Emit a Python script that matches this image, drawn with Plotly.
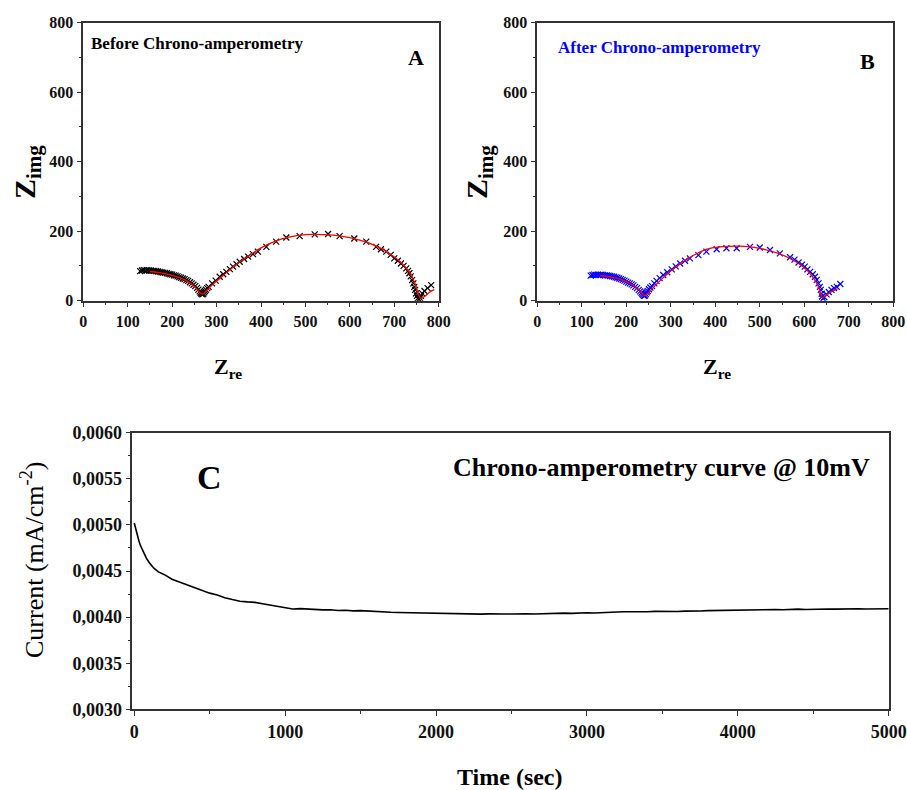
import plotly.graph_objects as go

# ---------------- DATA ----------------
# Panel A: before chrono-amperometry (measured points)
a_zre = [128,132,136,140,144,148,152,156,160,164,168,172,176,180,184,188,192,196,200,204,208,212,216,220,224,228,232,236,240,244,248,252,256,259,262,264,266,268,270,272,274,276,279,282,
         290,298,307,315,322,330,337,345,352,362,371,382,393,412,434,457,487,521,551,577,610,637,659,670,682,692,700,708,715,721,727,731,734,737,740,743,745,747,749,751,753,756,758,760,763,768,775,783]
a_zimg = [85,87,88,87,88,87,87,86,86,85,84,83,82,81,80,79,77,76,75,73,72,70,68,66,64,62,59,57,53,50,46,42,37,32,27,23,20,18,20,24,28,32,36,40,
          50,58,69,76,83,91,98,105,112,120,127,134,141,155,170,182,186,191,192,186,179,170,155,148,141,132,122,115,107,100,93,86,79,70,59,50,40,31,21,14,7,4,8,14,21,28,36,45]
# Panel A: fit
a_fit_zre = [150,175,200,225,245,258,265,270,278,290,310,340,370,400,430,460,500,540,580,620,660,690,715,735,748,755,760,768,780,790]
a_fit_zimg = [84,80,73,62,47,30,20,20,30,45,67,100,127,152,170,182,190,190,186,175,157,135,110,80,45,15,7,12,25,32]

# Panel B: after chrono-amperometry (measured points)
b_zre = [120,124,128,132,136,140,144,148,152,156,160,164,168,172,176,180,184,188,192,196,200,204,208,212,216,220,224,228,231,234,236,238,240,242,244,246,248,251,254,258,
         263,268,275,283,292,302,311,321,332,343,362,380,403,425,448,478,500,523,545,568,578,587,595,601,607,613,619,624,628,632,635,637,639,640,642,645,650,655,661,667,673,681]
b_zimg = [72,74,75,74,75,74,75,74,73,73,72,71,70,69,67,66,64,62,60,58,55,52,50,47,44,40,36,31,27,23,19,16,14,15,19,24,28,33,38,42,
          50,57,65,74,82,90,99,107,115,122,131,141,148,151,151,155,153,146,136,125,118,110,104,98,90,83,76,69,60,50,40,31,20,12,6,10,18,25,31,36,40,48]
# Panel B: fit
b_fit_zre = [140,165,190,210,225,235,240,246,255,270,290,320,350,380,410,450,480,510,540,570,595,615,630,637,641,648,660,675]
b_fit_zimg = [72,68,60,48,35,22,15,18,30,50,75,105,130,148,155,157,155,148,137,120,100,75,45,20,8,14,25,35]

# Panel C: chrono-amperometry
c_time = [0,10,20,30,40,60,80,100,130,160,200,250,300,350,400,450,500,550,600,650,700,750,800,850,900,950,
          1000,1050,1100,1150,1200,1250,1300,1350,1400,1450,1500,1550,1600,1650,1700,1750,1800,1850,1900,1950,
          2000,2050,2100,2150,2200,2250,2300,2350,2400,2450,2500,2550,2600,2650,2700,2750,2800,2850,2900,2950,
          3000,3050,3100,3150,3200,3250,3300,3350,3400,3450,3500,3550,3600,3650,3700,3750,3800,3850,3900,3950,
          4000,4050,4100,4150,4200,4250,4300,4350,4400,4450,4500,4550,4600,4650,4700,4750,4800,4850,4900,4950,5000]
c_current = [0.005020,0.004950,0.004880,0.004830,0.004780,0.004700,0.004640,0.004590,0.004530,0.004490,0.004460,0.004410,
             0.004380,0.004350,0.004320,0.004290,0.004260,0.004240,0.004210,0.004190,0.004172,0.004165,0.004160,0.004145,
             0.004132,0.004112,
             0.004100,0.004088,0.004092,0.004085,0.004082,0.004078,0.004080,0.004072,0.004075,0.004068,0.004070,0.004064,
             0.004060,0.004058,0.004052,0.004050,0.004048,0.004045,0.004046,0.004040,
             0.004038,0.004040,0.004035,0.004037,0.004033,0.004036,0.004032,0.004035,0.004030,0.004033,0.004034,0.004031,
             0.004036,0.004034,0.004038,0.004036,0.004040,0.004043,0.004040,0.004045,
             0.004047,0.004044,0.004050,0.004048,0.004055,0.004058,0.004056,0.004060,0.004058,0.004062,0.004060,0.004063,
             0.004061,0.004065,0.004063,0.004066,0.004070,0.004072,0.004070,0.004074,
             0.004076,0.004074,0.004078,0.004077,0.004080,0.004082,0.004080,0.004084,0.004086,0.004083,0.004087,0.004085,
             0.004088,0.004086,0.004089,0.004087,0.004090,0.004088,0.004091,0.004089,0.004090]

nyq_ticks = [0, 100, 200, 300, 400, 500, 600, 700, 800]
nyq_yticks = [0, 200, 400, 600, 800]
c_xticks = [0, 1000, 2000, 3000, 4000, 5000]
c_yticks = [0.0030, 0.0035, 0.0040, 0.0045, 0.0050, 0.0055, 0.0060]
c_ytick_labels = ["0,0030", "0,0035", "0,0040", "0,0045", "0,0050", "0,0055", "0,0060"]

# ---------------- FIGURE ----------------
SERIF = "Liberation Serif"
W, H, OFF = 907, 790, 0   # body margin removed by post_script below

def dx(a, b):
    return [(a - OFF) / W, (b - OFF) / W]

def dy(top, bottom):
    return [1 - (bottom - OFF) / H, 1 - (top - OFF) / H]

fig = go.Figure()

fig.add_trace(go.Scatter(x=a_zre, y=a_zimg, mode="markers", xaxis="x", yaxis="y",
                         marker=dict(symbol="x-thin", size=6, line=dict(color="black", width=1.2)), showlegend=False))
fig.add_trace(go.Scatter(x=a_fit_zre, y=a_fit_zimg, mode="lines", xaxis="x", yaxis="y",
                         line=dict(color="red", width=1.3, shape="spline"), showlegend=False))
fig.add_trace(go.Scatter(x=b_zre, y=b_zimg, mode="markers", xaxis="x2", yaxis="y2",
                         marker=dict(symbol="x-thin", size=6, line=dict(color="blue", width=1.2)), showlegend=False))
fig.add_trace(go.Scatter(x=b_fit_zre, y=b_fit_zimg, mode="lines", xaxis="x2", yaxis="y2",
                         line=dict(color="red", width=1.3, shape="spline"), showlegend=False))
fig.add_trace(go.Scatter(x=c_time, y=c_current, mode="lines", xaxis="x3", yaxis="y3",
                         line=dict(color="black", width=1.6), showlegend=False))

def ax(domain, rng, tickvals, ticktext=None, fsize=14, minor_d=None, anchor=None):
    d = dict(domain=domain, range=rng, showline=True, mirror=True, linecolor="#333", linewidth=1.5,
             ticks="outside", ticklen=5, tickwidth=1.3, tickcolor="#333", automargin=False,
             showgrid=False, zeroline=False, tickvals=tickvals,
             tickfont=dict(family=SERIF, size=fsize, color="#111", weight="bold"),
             anchor=anchor)
    if ticktext is not None:
        d["ticktext"] = ticktext
    if minor_d is not None:
        d["minor"] = dict(ticks="outside", ticklen=3, tickwidth=1.2, tickcolor="#333", dtick=minor_d, tick0=0, showgrid=False)
    return d

fig.update_layout(
    width=W, height=H, margin=dict(l=0, r=0, t=0, b=0, autoexpand=False),
    paper_bgcolor="white", plot_bgcolor="white",
    xaxis=ax(dx(83.3, 438.7), [0, 800], nyq_ticks, fsize=16, minor_d=50, anchor="y"),
    yaxis=ax(dy(22.7, 300.7), [0, 800], nyq_yticks, fsize=16, minor_d=100, anchor="x"),
    xaxis2=ax(dx(537.3, 893.3), [0, 800], nyq_ticks, fsize=16, minor_d=50, anchor="y2"),
    yaxis2=ax(dy(22.7, 300.7), [0, 800], nyq_yticks, fsize=16, minor_d=100, anchor="x2"),
    xaxis3=ax(dx(132.3, 888.7), [-13, 5000], c_xticks, fsize=18, minor_d=500, anchor="y3"),
    yaxis3=ax(dy(432.7, 709.3), [0.0030, 0.0060], c_yticks, ticktext=c_ytick_labels, fsize=18, minor_d=0.00025, anchor="x3"),
)

def ann(x, y, text, size, color="black", angle=0, xanchor="center", bold=True):
    fig.add_annotation(x=(x - OFF) / W, y=1 - (y - OFF) / H, xref="paper", yref="paper", text=text, showarrow=False,
                       textangle=angle, xanchor=xanchor, yanchor="middle",
                       font=dict(family=SERIF, size=size, color=color, weight="bold" if bold else "normal"))

ann(89, 44, "Before Chrono-amperometry", 17, xanchor="left")
ann(416, 58, "A", 22)
ann(556, 48, "After Chrono-amperometry", 17, color="blue", xanchor="left")
ann(867, 62, "B", 22)
ann(27, 172, "Z<sub>img</sub>", 30, angle=-90)
ann(228, 368, "Z<sub>re</sub>", 22)
ann(479, 172, "Z<sub>img</sub>", 30, angle=-90)
ann(717, 368, "Z<sub>re</sub>", 22)
ann(209, 477, "C", 34)
ann(872, 467, "Chrono-amperometry curve @ 10mV", 26, xanchor="right")
ann(32, 560, "Current (mA/cm<sup>-2</sup>)", 26, angle=-90, bold=False)
ann(510, 777, "Time (sec)", 24)

fig.write_html("out.html", config={"displayModeBar": False},
               post_script="document.body.style.margin='0';document.body.style.overflow='hidden';")
